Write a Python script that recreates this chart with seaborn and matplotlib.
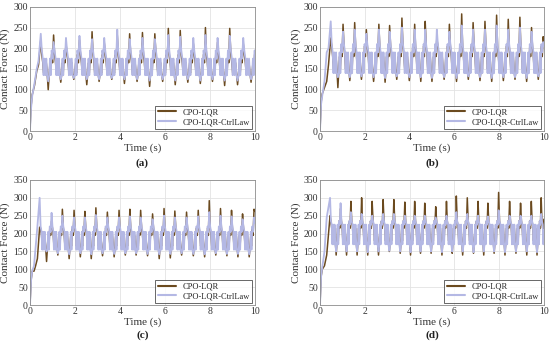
import numpy as np
import pandas as pd
import matplotlib
matplotlib.use("Agg")
import matplotlib.pyplot as plt
import seaborn as sns

sns.set_theme(style="whitegrid")
plt.rcParams['font.family'] = ['Liberation Serif', 'DejaVu Serif']

# ---------------- data ----------------
series_names = ["CPO-LQR", "CPO-LQR-CtrlLaw"]
panel_labels = ["(a)", "(b)", "(c)", "(d)"]
x_ticks = [0, 2, 4, 6, 8, 10]
y_max = [300, 300, 350, 350]

# panel (a)
a_peak_t = [0.48, 1.05, 1.6, 2.2, 2.76, 3.3, 3.88, 4.43, 5.0, 5.55, 6.15, 6.68, 7.26, 7.8, 8.34, 8.88, 9.48]
a_lqr_peak = [220, 232, 212, 220, 240, 215, 232, 235, 238, 235, 248, 243, 212, 250, 215, 248, 212]
a_law_peak = [235, 215, 225, 230, 222, 225, 245, 222, 225, 222, 232, 228, 225, 232, 225, 230, 225]
a_lqr_trough = [100, 118, 125, 112, 120, 125, 115, 120, 108, 120, 112, 118, 115, 120, 110, 112, 118]
a_law_trough = [120, 125, 128, 125, 125, 128, 125, 125, 122, 125, 122, 125, 122, 125, 122, 122, 125]
a_lqr_levels = [185, 165, 140]   # shoulder, plateau high, plateau low
a_law_levels = [195, 175, 135]
a_start_t = [0, 0.04, 0.1, 0.2, 0.3, 0.38]
a_lqr_start = [0, 55, 88, 110, 145, 160]
a_law_start = [0, 50, 85, 115, 150, 170]
a_end = [155, 160]

# panel (b)
b_peak_t = [0.48, 1.03, 1.55, 2.07, 2.63, 3.11, 3.66, 4.23, 4.7, 5.22, 5.78, 6.33, 6.84, 7.37, 7.89, 8.41, 8.93, 9.45, 9.97]
b_lqr_peak = [225, 258, 262, 245, 258, 255, 273, 258, 265, 225, 258, 283, 262, 265, 280, 270, 275, 250, 228]
b_law_peak = [265, 240, 245, 235, 245, 240, 250, 245, 245, 245, 240, 255, 245, 245, 255, 245, 250, 240, 215]
b_lqr_trough = [105, 122, 125, 120, 118, 125, 122, 120, 120, 125, 120, 125, 122, 120, 122, 125, 120, 125, 122]
b_law_trough = [130, 130, 132, 130, 128, 132, 130, 130, 128, 130, 128, 132, 130, 128, 130, 130, 128, 132, 130]
b_lqr_levels = [205, 180, 150]
b_law_levels = [210, 190, 140]
b_start_t = [0, 0.05, 0.1, 0.2, 0.3, 0.38]
b_lqr_start = [0, 70, 90, 105, 120, 160]
b_law_start = [0, 65, 85, 120, 190, 200]
b_end = [215, 205]

# panel (c)
c_peak_t = [0.43, 0.96, 1.44, 1.96, 2.44, 2.93, 3.44, 3.96, 4.44, 4.92, 5.45, 5.96, 6.44, 6.96, 7.48, 7.97, 8.47, 8.96, 9.45, 9.96]
c_lqr_peak = [218, 235, 268, 265, 262, 272, 260, 265, 268, 265, 255, 270, 263, 260, 265, 292, 270, 265, 255, 268]
c_law_peak = [300, 258, 250, 245, 245, 252, 245, 245, 248, 245, 240, 250, 245, 245, 248, 260, 250, 248, 240, 245]
c_lqr_trough = [122, 140, 130, 135, 130, 138, 135, 140, 140, 138, 130, 132, 140, 138, 135, 140, 138, 135, 135, 138]
c_law_trough = [150, 145, 142, 145, 142, 145, 143, 145, 145, 143, 142, 143, 145, 143, 142, 145, 143, 143, 142, 145]
c_lqr_levels = [215, 195, 165]
c_law_levels = [220, 205, 155]
c_start_t = [0, 0.05, 0.1, 0.18, 0.25, 0.33]
c_lqr_start = [0, 70, 95, 95, 110, 130]
c_law_start = [0, 70, 95, 110, 160, 220]
c_end = [262, 230]

# panel (d)
d_peak_t = [0.45, 0.92, 1.38, 1.86, 2.33, 2.82, 3.3, 3.79, 4.23, 4.68, 5.17, 5.65, 6.09, 6.58, 7.06, 7.5, 7.98, 8.47, 8.96, 9.44, 9.88]
d_lqr_peak = [250, 270, 290, 300, 290, 295, 295, 288, 290, 285, 275, 290, 305, 300, 290, 285, 315, 290, 285, 290, 300]
d_law_peak = [300, 285, 260, 255, 250, 255, 255, 250, 250, 250, 245, 250, 260, 255, 250, 248, 265, 250, 250, 250, 255]
d_lqr_trough = [140, 140, 140, 140, 140, 150, 145, 140, 145, 145, 140, 145, 140, 145, 140, 145, 140, 145, 140, 140, 145]
d_law_trough = [150, 150, 150, 148, 150, 152, 150, 148, 150, 150, 148, 150, 150, 148, 150, 150, 148, 150, 150, 148, 150]
d_lqr_levels = [235, 215, 180]
d_law_levels = [235, 225, 170]
d_start_t = [0, 0.05, 0.1, 0.2, 0.3]
d_lqr_start = [0, 80, 100, 110, 140]
d_law_start = [0, 80, 105, 150, 245]
d_end = [240, 210]


def build(peak_t, peak, trough, levels, start_t, start_v, end_v, t_end=10.0):
    shoulder, hi, lo = levels
    ts, vs = list(start_t), list(start_v)
    n = len(peak_t)
    for i in range(n):
        tp = peak_t[i]
        P = (peak_t[i + 1] - tp) if i + 1 < n else (peak_t[-1] - peak_t[-2])
        cyc = [(0.0, peak[i]), (0.08, shoulder), (0.16, hi), (0.22, lo), (0.29, hi),
               (0.36, lo), (0.43, hi), (0.5, lo), (0.58, trough[i]), (0.66, lo),
               (0.72, hi), (0.78, lo), (0.85, shoulder), (0.92, hi)]
        for f, v in cyc:
            t = tp + f * P
            if t < t_end:
                ts.append(t)
                vs.append(v)
    ts.append(t_end)
    vs.append(end_v)
    return ts, vs


panels = [
    (a_peak_t, a_lqr_peak, a_law_peak, a_lqr_trough, a_law_trough, a_lqr_levels, a_law_levels,
     a_start_t, a_lqr_start, a_law_start, a_end),
    (b_peak_t, b_lqr_peak, b_law_peak, b_lqr_trough, b_law_trough, b_lqr_levels, b_law_levels,
     b_start_t, b_lqr_start, b_law_start, b_end),
    (c_peak_t, c_lqr_peak, c_law_peak, c_lqr_trough, c_law_trough, c_lqr_levels, c_law_levels,
     c_start_t, c_lqr_start, c_law_start, c_end),
    (d_peak_t, d_lqr_peak, d_law_peak, d_lqr_trough, d_law_trough, d_lqr_levels, d_law_levels,
     d_start_t, d_lqr_start, d_law_start, d_end),
]

colors = {"CPO-LQR": "#6b4a1f", "CPO-LQR-CtrlLaw": "#b4b8e4"}

fig = plt.figure(figsize=(5.5, 3.44), dpi=100)
positions = [
    [0.0545, 0.619, 0.409, 0.361],
    [0.5818, 0.619, 0.407, 0.361],
    [0.0545, 0.113, 0.409, 0.364],
    [0.5818, 0.113, 0.407, 0.364],
]
label_y = [1 - 163 / 344, 1 - 163 / 344, 1 - 335 / 344, 1 - 335 / 344]

for k, p in enumerate(panels):
    (pt, lp, wp, lt, wt, ll, wl, st, ls, ws, ev) = p
    t1, v1 = build(pt, lp, lt, ll, st, ls, ev[0])
    t2, v2 = build(pt, wp, wt, wl, st, ws, ev[1])
    df = pd.DataFrame({
        "t": t1 + t2,
        "F": v1 + v2,
        "series": [series_names[0]] * len(t1) + [series_names[1]] * len(t2),
    })
    ax = fig.add_axes(positions[k])
    sns.lineplot(data=df[df.series == series_names[0]], x="t", y="F", color=colors[series_names[0]],
                 sort=False, estimator=None, linewidth=1.1, ax=ax, label=series_names[0])
    sns.lineplot(data=df[df.series == series_names[1]], x="t", y="F", color=colors[series_names[1]],
                 sort=False, estimator=None, linewidth=1.3, ax=ax, label=series_names[1])
    ax.set_xlim(0, 10)
    ax.set_ylim(0, y_max[k])
    ax.set_xticks(x_ticks)
    ax.set_yticks(np.arange(0, y_max[k] + 1, 50))
    ax.tick_params(axis='both', labelsize=7, colors='#333333', direction='in',
                   length=2, pad=1.5)
    ax.grid(True, color='#e3e3e3', linewidth=0.6)
    for s in ax.spines.values():
        s.set_color('#8c8c8c')
        s.set_linewidth(0.6)
    ax.set_facecolor('white')
    ax.set_xlabel("Time (s)", fontsize=8, color='#333333', labelpad=1)
    ax.set_ylabel("Contact Force (N)", fontsize=8, color='#333333', labelpad=2)
    leg = ax.legend(loc='lower right', fontsize=6, frameon=True, fancybox=False,
                    borderaxespad=0.3, handlelength=2.2, borderpad=0.3, labelspacing=0.2)
    leg.get_frame().set_edgecolor('#222222')
    leg.get_frame().set_linewidth(0.6)
    for line in leg.get_lines():
        line.set_linewidth(1.5)
    pos = positions[k]
    fig.text(pos[0] + pos[2] / 2, label_y[k], panel_labels[k], ha='center', va='center',
             fontsize=8, fontweight='bold', color='#222222')

fig.savefig("out.png", dpi=100)
